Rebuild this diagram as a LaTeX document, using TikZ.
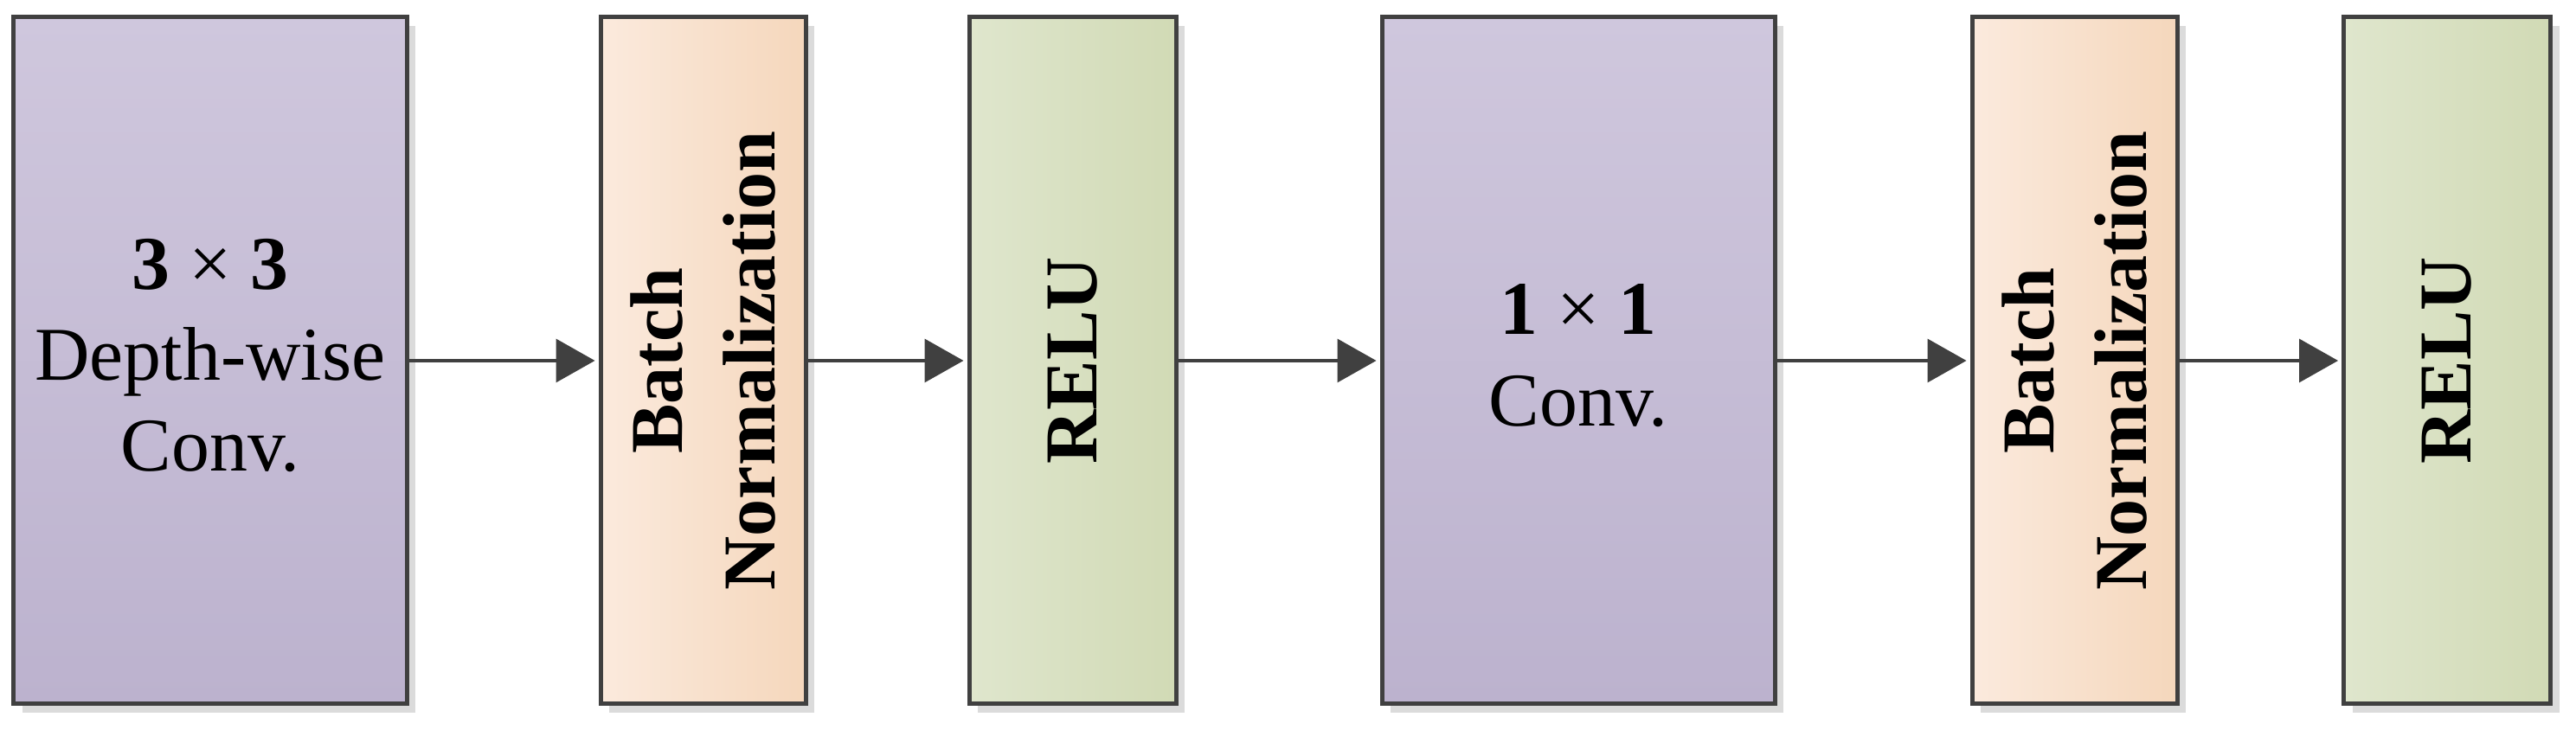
\documentclass[tikz,border=0pt]{standalone}
\usepackage{fontspec}
\setmainfont{Liberation Serif}
\usetikzlibrary{arrows.meta,shadows}
\definecolor{edge}{HTML}{404040}
\definecolor{pur1}{HTML}{CFC7DD}
\definecolor{pur2}{HTML}{BCB2CE}
\definecolor{ora1}{HTML}{FBEADD}
\definecolor{ora2}{HTML}{F5D7BC}
\definecolor{grn1}{HTML}{DFE6CD}
\definecolor{grn2}{HTML}{D1DAB5}
\tikzset{
  blk/.style={draw=edge, line width=0.05cm, inner sep=0pt, minimum height=7.94cm,
    drop shadow={shadow xshift=0.1cm, shadow yshift=-0.1cm, fill=black!14, opacity=1}},
  convblk/.style={blk, minimum width=4.54cm, top color=pur1, bottom color=pur2},
  bnblk/.style={blk, minimum width=2.37cm, left color=ora1, right color=ora2},
  reblk/.style={blk, minimum width=2.39cm, left color=grn1, right color=grn2},
  txt/.style={align=center, font=\fontsize{25}{30}\selectfont, text=black},
  rtxt/.style={align=center, font=\fontsize{24.5}{30.5}\selectfont\bfseries, rotate=90, text=black},
  conn/.style={draw=edge, line width=0.035cm, -{Triangle[length=0.45cm, width=0.5cm]}, shorten >=0.04cm}
}
\begin{document}
\begin{tikzpicture}
\useasboundingbox (0,0) rectangle (29.77,8.44);
\node[convblk] (c1) at (2.43,4.27) {};
\node[bnblk]   (b1) at (8.125,4.27) {};
\node[reblk]   (r1) at (12.395,4.27) {};
\node[convblk] (c2) at (18.24,4.27) {};
\node[bnblk]   (b2) at (23.975,4.27) {};
\node[reblk]   (r2) at (28.28,4.27) {};
\node[txt] (t1) at (2.43,4.33) {\textbf{3} × \textbf{3}\\Depth-wise\\Conv.};
\node[rtxt] (t2) at (8.125,4.27) {Batch\\Normalization};
\node[rtxt] (t3) at (12.395,4.27) {RELU};
\node[txt] (t4) at (18.24,4.33) {\textbf{1} × \textbf{1}\\Conv.};
\node[rtxt] (t5) at (23.975,4.27) {Batch\\Normalization};
\node[rtxt] (t6) at (28.28,4.27) {RELU};
\draw[conn] (c1.east) -- (b1.west);
\draw[conn] (b1.east) -- (r1.west);
\draw[conn] (r1.east) -- (c2.west);
\draw[conn] (c2.east) -- (b2.west);
\draw[conn] (b2.east) -- (r2.west);
\end{tikzpicture}
\end{document}
